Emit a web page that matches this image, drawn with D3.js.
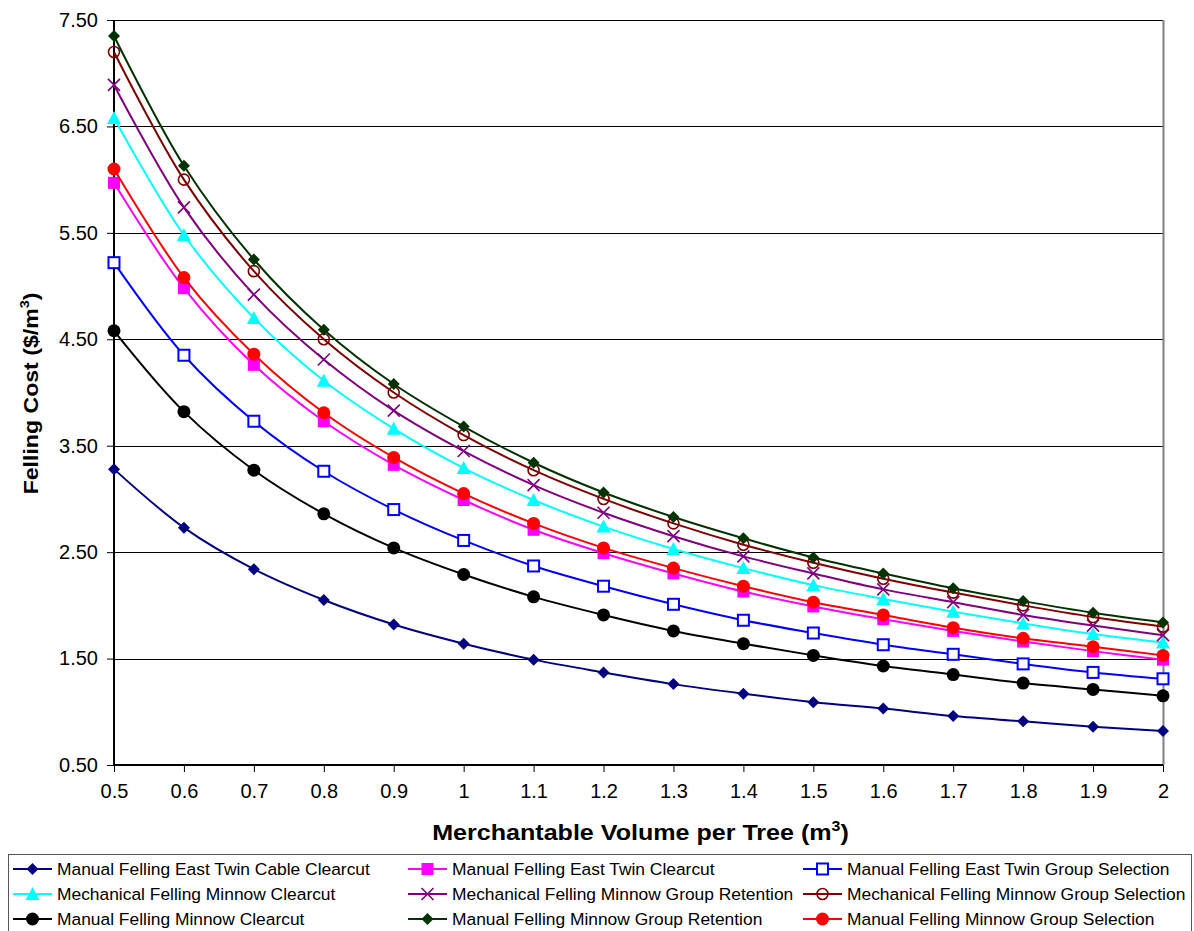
<!DOCTYPE html>
<html>
<head>
<meta charset="utf-8">
<script src="https://cdn.jsdelivr.net/npm/d3@7/dist/d3.min.js"></script>
<style>
  html, body { margin: 0; padding: 0; background: #fff; }
  svg { display: block; font-family: "Liberation Sans", Arial, sans-serif; }
</style>
</head>
<body>
<svg id="chart" width="1194" height="931"></svg>
<script>
const xValues = [0.5, 0.6, 0.7, 0.8, 0.9, 1.0, 1.1, 1.2, 1.3, 1.4, 1.5, 1.6, 1.7, 1.8, 1.9, 2.0];
const xTickLabels = ["0.5","0.6","0.7","0.8","0.9","1","1.1","1.2","1.3","1.4","1.5","1.6","1.7","1.8","1.9","2"];
const yTicks = [0.5, 1.5, 2.5, 3.5, 4.5, 5.5, 6.5, 7.5];

const seriesNames = [
  "Manual Felling East Twin Cable Clearcut",
  "Manual Felling East Twin Clearcut",
  "Manual Felling East Twin Group Selection",
  "Mechanical Felling Minnow Clearcut",
  "Mechanical Felling Minnow Group Retention",
  "Mechanical Felling Minnow Group Selection",
  "Manual Felling Minnow Clearcut",
  "Manual Felling Minnow Group Retention",
  "Manual Felling Minnow Group Selection"
];
const eastTwinCableClearcut = [3.28, 2.73, 2.34, 2.05, 1.82, 1.64, 1.49, 1.37, 1.26, 1.17, 1.09, 1.03, 0.96, 0.91, 0.86, 0.82];
const eastTwinClearcut      = [5.97, 4.98, 4.26, 3.73, 3.32, 2.99, 2.71, 2.49, 2.30, 2.13, 1.99, 1.87, 1.76, 1.66, 1.57, 1.49];
const eastTwinGroupSel      = [5.22, 4.35, 3.73, 3.26, 2.90, 2.61, 2.37, 2.18, 2.01, 1.86, 1.74, 1.63, 1.54, 1.45, 1.37, 1.31];
const mechMinnowClearcut    = [6.58, 5.48, 4.70, 4.11, 3.66, 3.29, 2.99, 2.74, 2.53, 2.35, 2.19, 2.06, 1.94, 1.83, 1.73, 1.65];
const mechMinnowGroupRet    = [6.89, 5.74, 4.92, 4.31, 3.83, 3.45, 3.13, 2.87, 2.65, 2.46, 2.30, 2.15, 2.03, 1.91, 1.81, 1.72];
const mechMinnowGroupSel    = [7.20, 6.00, 5.14, 4.50, 4.00, 3.60, 3.27, 3.00, 2.77, 2.57, 2.40, 2.25, 2.12, 2.00, 1.89, 1.80];
const manMinnowClearcut     = [4.58, 3.82, 3.27, 2.86, 2.54, 2.29, 2.08, 1.91, 1.76, 1.64, 1.53, 1.43, 1.35, 1.27, 1.21, 1.15];
const manMinnowGroupRet     = [7.35, 6.13, 5.25, 4.59, 4.08, 3.68, 3.34, 3.06, 2.83, 2.63, 2.45, 2.30, 2.16, 2.04, 1.93, 1.84];
const manMinnowGroupSel     = [6.10, 5.08, 4.36, 3.81, 3.39, 3.05, 2.77, 2.54, 2.35, 2.18, 2.03, 1.91, 1.79, 1.69, 1.61, 1.53];

const seriesValues = [eastTwinCableClearcut, eastTwinClearcut, eastTwinGroupSel, mechMinnowClearcut,
  mechMinnowGroupRet, mechMinnowGroupSel, manMinnowClearcut, manMinnowGroupRet, manMinnowGroupSel];
const seriesColors = ["#000080", "#FF00FF", "#0000FF", "#00FFFF", "#800080", "#800000", "#000000", "#003300", "#FF0000"];
const seriesMarkers = ["diamond", "square", "squareOpen", "triangle", "cross", "circleOpen", "circle", "diamond", "circle"];

const svg = d3.select("#chart");
const L = 114, R = 1163, T = 20, B = 765;
const x = d3.scaleLinear().domain([0.5, 2]).range([L, R]);
const y = d3.scaleLinear().domain([0.5, 7.5]).range([B, T]);

// gridlines
svg.append("g").selectAll("line").data(yTicks.slice(1)).join("line")
  .attr("x1", L).attr("x2", R).attr("y1", d => Math.round(y(d)) + 0.5).attr("y2", d => Math.round(y(d)) + 0.5)
  .attr("stroke", "#000").attr("stroke-width", 1);

// right border
svg.append("line").attr("x1", R + 0.5).attr("x2", R + 0.5).attr("y1", T).attr("y2", B)
  .attr("stroke", "#808080").attr("stroke-width", 2);

// axes
const yAxis = d3.axisLeft(y).tickValues(yTicks).tickFormat(d3.format(".2f")).tickSize(7).tickPadding(9);
const yg = svg.append("g").attr("transform", `translate(${L},0)`).call(yAxis);
yg.select(".domain").attr("stroke-width", 2).attr("d", `M0,${T}V${B}`);
yg.selectAll("text").attr("font-size", 20).attr("fill", "#000").attr("font-family", "Liberation Sans, Arial");

const xAxis = d3.axisBottom(x).tickValues(xValues).tickFormat((d, i) => xTickLabels[i]).tickSize(7).tickPadding(12);
const xg = svg.append("g").attr("transform", `translate(0,${B})`).call(xAxis);
xg.select(".domain").attr("stroke-width", 2).attr("d", `M${L},0H${R}`);
xg.selectAll("text").attr("font-size", 20).attr("fill", "#000").attr("font-family", "Liberation Sans, Arial");

// axis titles
const xt = svg.append("text").attr("transform", `translate(${(L + R) / 2 + 2},840) scale(1.14,1)`)
  .attr("text-anchor", "middle").attr("font-size", 22).attr("font-weight", "bold");
xt.append("tspan").text("Merchantable Volume per Tree (m");
xt.append("tspan").text("3").attr("font-size", 14).attr("dy", -9);
xt.append("tspan").text(")").attr("dy", 9);

const yt = svg.append("text").attr("transform", `translate(38,${(T + B) / 2 + 1}) rotate(-90) scale(1.1,1)`)
  .attr("text-anchor", "middle").attr("font-size", 21).attr("font-weight", "bold");
yt.append("tspan").text("Felling Cost ($/m");
yt.append("tspan").text("3").attr("font-size", 13).attr("dy", -9);
yt.append("tspan").text(")").attr("dy", 9);

// marker drawing
function drawMarker(g, type, color, cx, cy) {
  switch (type) {
    case "diamond":
      g.append("path").attr("d", `M${cx},${cy-6}L${cx+6},${cy}L${cx},${cy+6}L${cx-6},${cy}Z`).attr("fill", color);
      break;
    case "square":
      g.append("rect").attr("x", cx-6).attr("y", cy-6).attr("width", 12).attr("height", 12).attr("fill", color);
      break;
    case "squareOpen":
      g.append("rect").attr("x", cx-5.5).attr("y", cy-5.5).attr("width", 11).attr("height", 11)
        .attr("fill", "#fff").attr("stroke", color).attr("stroke-width", 2);
      break;
    case "triangle":
      g.append("path").attr("d", `M${cx},${cy-7}L${cx+7},${cy+6}L${cx-7},${cy+6}Z`).attr("fill", color);
      break;
    case "cross":
      g.append("path").attr("d", `M${cx-6},${cy-6}L${cx+6},${cy+6}M${cx+6},${cy-6}L${cx-6},${cy+6}`)
        .attr("stroke", color).attr("stroke-width", 1.6).attr("fill", "none");
      break;
    case "circleOpen":
      g.append("circle").attr("cx", cx).attr("cy", cy).attr("r", 5.5).attr("fill", "none")
        .attr("stroke", color).attr("stroke-width", 1.6);
      break;
    case "circle":
      g.append("circle").attr("cx", cx).attr("cy", cy).attr("r", 6.5).attr("fill", color);
      break;
  }
}

const line = d3.line().x((d, i) => x(xValues[i])).y(d => y(d)).curve(d3.curveCatmullRom.alpha(0.5));

seriesValues.forEach((vals, si) => {
  const g = svg.append("g");
  g.append("path").datum(vals).attr("d", line).attr("fill", "none")
    .attr("stroke", seriesColors[si]).attr("stroke-width", 2);
  vals.forEach((v, i) => drawMarker(g, seriesMarkers[si], seriesColors[si], x(xValues[i]), y(v)));
});

// legend
const lg = svg.append("g");
lg.append("rect").attr("x", 8.5).attr("y", 854.5).attr("width", 1183).attr("height", 90)
  .attr("fill", "#fff").attr("stroke", "#555").attr("stroke-width", 1);
const colX = [13, 408, 803];
const rowY = [869, 894, 919];
seriesNames.forEach((name, i) => {
  const cx = colX[i % 3], cy = rowY[Math.floor(i / 3)];
  const g = lg.append("g");
  g.append("line").attr("x1", cx).attr("x2", cx + 39).attr("y1", cy).attr("y2", cy)
    .attr("stroke", seriesColors[i]).attr("stroke-width", 2);
  drawMarker(g, seriesMarkers[i], seriesColors[i], cx + 19.5, cy);
  g.append("text").attr("x", cx + 44).attr("y", cy + 6).attr("font-size", 17.4).attr("fill", "#000").text(name);
});
</script>
</body>
</html>
